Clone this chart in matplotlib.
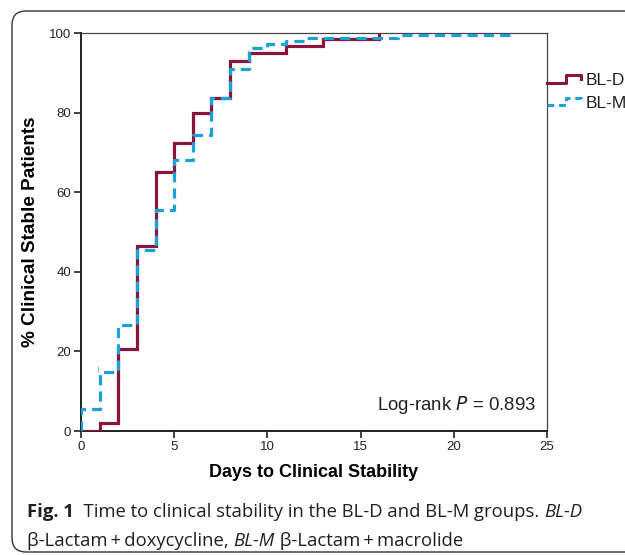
import matplotlib
matplotlib.use("Agg")
import matplotlib.pyplot as plt
from matplotlib.lines import Line2D
from matplotlib.legend_handler import HandlerBase
from matplotlib.patches import FancyBboxPatch

# ---------------- data ----------------
bld_days = [0, 1, 2, 3, 4, 5, 6, 7, 8, 9, 11, 13, 16]
bld_pct = [0, 2.1, 20.6, 46.6, 65.0, 72.4, 79.9, 83.7, 93.0, 94.9, 96.7, 98.4, 100]

blm_days = [0, 0, 1, 2, 3, 4, 5, 6, 7, 8, 9, 10, 11, 12, 17, 23]
blm_pct = [0, 5.5, 14.7, 26.7, 45.5, 55.5, 68.2, 74.4, 83.7, 91.0, 96.3, 97.2, 98.1, 98.8, 99.6, 99.6]

censor_days = [0.9]
censor_pct = [15.6]

x_ticks = [0, 5, 10, 15, 20, 25]
y_ticks = [0, 20, 40, 60, 80, 100]
group_labels = ["BL-D", "BL-M"]

RED = "#8a1538"
BLUE = "#1ba1d6"

W, H = 625, 555
fig = plt.figure(figsize=(W / 100, H / 100), dpi=100)
ax = fig.add_axes([81 / W, 1 - 431 / H, (547 - 81) / W, (431 - 33) / H])

ax.plot(bld_days, bld_pct, drawstyle="steps-post", color=RED, lw=2.3,
        solid_joinstyle="miter", zorder=3)
ax.plot(blm_days, blm_pct, drawstyle="steps-post", color=BLUE, lw=2.3,
        dashes=(3.2, 1.9), zorder=4)
ax.plot(censor_days, censor_pct, ls="none", marker="|", ms=4, mew=0.8,
        color="#6cc3e6", zorder=5)

ax.set_xlim(0, 25)
ax.set_ylim(0, 100)
ax.set_xticks(x_ticks)
ax.set_yticks(y_ticks)
ax.tick_params(direction="out", length=5, width=1.2, colors="#222222",
               labelsize=9.5, pad=2)
for lab in ax.get_xticklabels() + ax.get_yticklabels():
    lab.set_family("Liberation Sans")
for s in ["left", "bottom"]:
    ax.spines[s].set_linewidth(1.4)
    ax.spines[s].set_color("#222222")
for s in ["top", "right"]:
    ax.spines[s].set_linewidth(0.9)
    ax.spines[s].set_color("#444444")

ax.set_xlabel("Days to Clinical Stability", family="Liberation Sans",
              fontweight="bold", fontsize=13, labelpad=8)
ax.set_ylabel("% Clinical Stable Patients", family="Liberation Sans",
              fontweight="bold", fontsize=13.6, labelpad=7)

ax.text(0.977, 0.066, "Log-rank $\\it{P}$ = 0.893", transform=ax.transAxes,
        ha="right", va="center", fontsize=13.4, family="Liberation Sans",
        color="#222222")


class StepHandler(HandlerBase):
    def create_artists(self, legend, orig_handle, xdescent, ydescent,
                       width, height, fontsize, trans):
        xs = [0.0, 0.52, 0.52, 0.92, 0.92]
        ys = [0.15, 0.15, 0.85, 0.85, 0.45]
        xs = [x * width - xdescent for x in xs]
        ys = [y * height - ydescent for y in ys]
        ln = Line2D(xs, ys, color=orig_handle.get_color(),
                    lw=orig_handle.get_linewidth(),
                    linestyle=orig_handle.get_linestyle())
        if orig_handle.get_linestyle() not in ("-", "solid"):
            ln.set_dashes((2.2, 1.6))
        ln.set_transform(trans)
        return [ln]


h1 = Line2D([], [], color=RED, lw=2.2, ls="-")
h2 = Line2D([], [], color=BLUE, lw=2.2, ls="--")
leg = ax.legend([h1, h2], group_labels, loc="upper left",
                bbox_to_anchor=(1.0, 0.9), frameon=False,
                handler_map={Line2D: StepHandler()},
                handlelength=2.1, handleheight=0.6, handletextpad=0.15,
                labelspacing=0.45, borderaxespad=0, borderpad=0,
                prop={"family": "Liberation Sans", "size": 12.5})
for t in leg.get_texts():
    t.set_color("#222222")

# rounded figure frame
frame = FancyBboxPatch((0.12, 0.03), 7.0, 5.41,
                       boxstyle="round,pad=0,rounding_size=0.14",
                       transform=fig.dpi_scale_trans, fill=False,
                       ec="#333333", lw=1.0, clip_on=False)
fig.patches.append(frame)

# caption with mixed styles
fig.canvas.draw()
renderer = fig.canvas.get_renderer()
cap_fam = ["Open Sans", "DejaVu Sans"]
cap_size = 13.3


def runs(x0_px, y_px, pieces):
    x = x0_px
    for txt, style, weight in pieces:
        t = fig.text(x / W, 1 - y_px / H, txt, family=cap_fam, fontsize=cap_size,
                     style=style, fontweight=weight, ha="left", va="baseline",
                     color="#231f20")
        bb = t.get_window_extent(renderer)
        x += bb.width


runs(27, 517, [("Fig. 1", "normal", "bold"),
               ("  Time to clinical stability in the BL-D and BL-M groups. ", "normal", "normal"),
               ("BL-D", "italic", "normal")])
runs(27, 546, [("β-Lactam\u2009+\u2009doxycycline, ", "normal", "normal"),
               ("BL-M", "italic", "normal"),
               (" β-Lactam\u2009+\u2009macrolide", "normal", "normal")])

fig.savefig("out.png", dpi=100)
